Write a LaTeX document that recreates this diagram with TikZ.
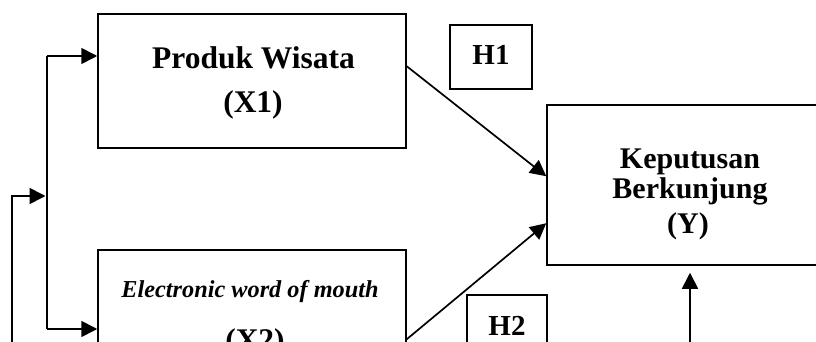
\documentclass[tikz,border=0pt]{standalone}
\usepackage{fontspec}
\setmainfont{Liberation Serif}
\usetikzlibrary{arrows.meta}
\begin{document}
\begin{tikzpicture}[x=1pt,y=-1pt,
  box/.style={draw,line width=1.5pt,inner sep=0pt,rectangle},
  arr/.style={line width=1.7pt,-{Triangle[length=16pt,width=16pt]}},
  ln/.style={line width=1.7pt},
  txt/.style={inner sep=0pt,anchor=base,font=\bfseries\fontsize{31.5}{36}\selectfont},
  itxt/.style={inner sep=0pt,anchor=base,font=\bfseries\itshape\fontsize{24.3}{28}\selectfont}]
\useasboundingbox (0,0) rectangle (816,342);
\clip (0,0) rectangle (816,342);
% boxes
\node[box,minimum width=308pt,minimum height=134pt] (X1) at (252,81) {};
\node[box,minimum width=308pt,minimum height=134pt] (X2) at (252,317) {};
\node[box,minimum width=286pt,minimum height=160pt] (Y) at (690,185) {};
\node[box,minimum width=82pt,minimum height=64pt] (H1) at (491,57) {};
\node[box,minimum width=80pt,minimum height=64pt] (H2) at (507,327) {};
% texts
\node[txt] (t1) at (253.5,69) {Produk Wisata};
\node[txt] (t2) at (253,113) {(X1)};
\node[itxt] (t3) at (250,297) {Electronic word of mouth};
\node[txt] (t4) at (255,350) {(X2)};
\node[txt,font=\bfseries\fontsize{30}{36}\selectfont] (t5) at (690,168) {Keputusan};
\node[txt,font=\bfseries\fontsize{30}{36}\selectfont] (t6) at (690,198) {Berkunjung};
\node[txt,font=\bfseries\fontsize{30}{36}\selectfont] (t7) at (688,233) {(Y)};
\node[txt,font=\bfseries\fontsize{29}{36}\selectfont] (h1) at (491,65) {H1};
\node[txt,font=\bfseries\fontsize{29}{36}\selectfont] (h2) at (507,335) {H2};
% coordinates
\coordinate (b1) at (47,56);
\coordinate (b2) at (47,329);
\coordinate (c1) at (12,360);
\coordinate (c2) at (12,196);
\coordinate (c3) at (45.5,196);
\coordinate (d1) at (690,360);
% connectors
\draw[ln] (b1) -- (b2);
\draw[arr] (b1) -- (b1 -| X1.west);
\draw[arr] (b2) -- (b2 -| X2.west);
\draw[arr] (c1) -- (c2) -- (c3);
\draw[arr] ([yshift=-53pt]X1.north east) -- ([yshift=-72pt]Y.north west);
\draw[arr] ([yshift=-90pt]X2.north east) -- ([yshift=-119pt]Y.north west);
\draw[arr] (d1) -- ([yshift=-7pt]Y.south);
\end{tikzpicture}
\end{document}
